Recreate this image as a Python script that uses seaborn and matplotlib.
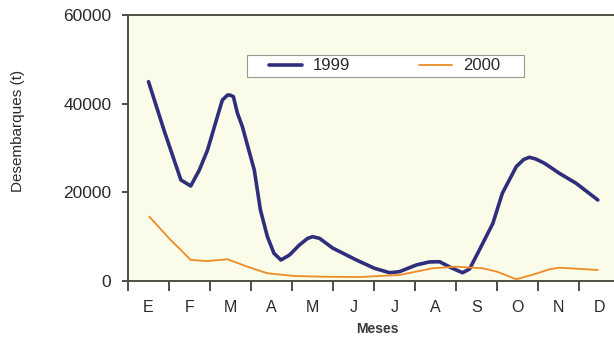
import matplotlib
matplotlib.use("Agg")
import matplotlib.pyplot as plt
import seaborn as sns
import pandas as pd
from matplotlib.lines import Line2D
from matplotlib.patches import Rectangle
from matplotlib.ticker import FixedLocator

# Month initials (Spanish) and landing values in tonnes
meses = ["E", "F", "M", "A", "M", "J", "J", "A", "S", "O", "N", "D"]

# 1999: position in months (0 = January) and landings
t_1999 = [0.0, 0.39, 0.79, 0.95, 1.03, 1.24, 1.44, 1.68, 1.80, 1.93, 2.0, 2.07,
          2.17, 2.29, 2.58, 2.73, 2.90, 3.06, 3.23, 3.44, 3.68, 3.88, 4.00,
          4.17, 4.49, 5.07, 5.51, 5.88, 6.12, 6.53, 6.85, 7.10, 7.41, 7.66,
          7.83, 8.07, 8.40, 8.63, 8.97, 9.15, 9.29, 9.45, 9.66, 10.02, 10.43,
          10.96]
d_1999 = [44960, 33680, 22790, 21880, 21430, 25040, 29550, 37070, 40800, 41960,
          41900, 41580, 37830, 34810, 25040, 16020, 9990, 6250, 4740, 5870,
          8120, 9600, 9990, 9630, 7440, 4740, 2870, 1870, 2100, 3610, 4300,
          4350, 2870, 1870, 2700, 6990, 13020, 19790, 25790, 27400, 27910,
          27500, 26550, 24300, 22040, 18270]

# 2000
t_2000 = [0.02, 0.54, 0.79, 1.03, 1.44, 1.93, 2.41, 2.90, 3.55, 4.24, 5.15,
          6.12, 6.93, 7.51, 8.15, 8.50, 8.97, 9.40, 9.78, 10.02, 10.96]
d_2000 = [14510, 9250, 6990, 4740, 4510, 4900, 3230, 1740, 1130, 970, 900,
          1350, 2870, 3230, 2870, 2100, 400, 1500, 2640, 3000, 2480]

y_ticks = [0, 20000, 40000, 60000]

c_1999 = "#2F2E7C"
c_2000 = "#EF8B25"
spine_c = "#4B5046"
text_c = "#2A2A2A"

sns.set_style("white")
plt.rcParams["font.family"] = ["Liberation Sans", "DejaVu Sans"]
plt.rcParams["lines.solid_joinstyle"] = "round"

df = pd.concat([
    pd.DataFrame({"mes": t_1999, "desembarques": d_1999, "año": "1999"}),
    pd.DataFrame({"mes": t_2000, "desembarques": d_2000, "año": "2000"}),
], ignore_index=True)

fig = plt.figure(figsize=(6.14, 3.38), dpi=100)
fig.patch.set_facecolor("white")
ax = fig.add_axes([128 / 614, 57 / 338, 486 / 614, 266 / 338])
ax.set_facecolor("#FAFBE8")

sns.lineplot(data=df[df["año"] == "1999"], x="mes", y="desembarques",
             color=c_1999, linewidth=2.6, sort=False, estimator=None, ax=ax)
sns.lineplot(data=df[df["año"] == "2000"], x="mes", y="desembarques",
             color=c_2000, linewidth=1.3, sort=False, estimator=None, ax=ax)

ax.set_xlim(-0.5, -0.5 + 486 / 41)
ax.set_ylim(0, 60000)

# Month labels centred, tick marks on month boundaries
ax.set_xticks(range(len(meses)))
ax.set_xticklabels(meses, fontsize=11.5, color=text_c)
ax.xaxis.set_minor_locator(FixedLocator([i - 0.5 for i in range(len(meses) + 1)]))
ax.tick_params(axis="x", which="major", length=0, pad=14)
ax.tick_params(axis="x", which="minor", length=7, width=1.4, color=spine_c,
               direction="out", bottom=True)

ax.set_yticks(y_ticks)
ax.set_yticklabels([str(v) for v in y_ticks], fontsize=12.5, color=text_c)
ax.tick_params(axis="y", length=4, width=1.4, color=spine_c, direction="out",
               left=True, pad=8)

for side in ("left", "bottom", "top"):
    ax.spines[side].set_visible(True)
    ax.spines[side].set_color(spine_c)
    ax.spines[side].set_linewidth(1.4)
ax.spines["right"].set_visible(False)

ax.set_ylabel("Desembarques (t)", fontsize=11, color=text_c, va="center")
ax.yaxis.set_label_coords(-0.226, 0.564)
ax.set_xlabel("Meses", fontsize=10, fontweight="bold", color="#3A3A3A",
              va="center")
ax.xaxis.set_label_coords(0.514, -0.18)

# Legend: white box with grey border, entries laid out in one row
box_x0, box_x1 = (247 - 128) / 486, (524 - 128) / 486
box_y0, box_y1 = (281 - 77) / 266, (281 - 55) / 266
ax.add_patch(Rectangle((box_x0, box_y0), box_x1 - box_x0, box_y1 - box_y0,
                       transform=ax.transAxes, facecolor="white",
                       edgecolor="#9A9A9A", linewidth=0.8, zorder=4))
handles = [Line2D([], [], color=c_1999, linewidth=2.6),
           Line2D([], [], color=c_2000, linewidth=1.3)]
leg = ax.legend(handles, ["1999", "2000"], ncol=2, loc="center left",
                bbox_to_anchor=((269 - 128) / 486, (box_y0 + box_y1) / 2),
                fontsize=12, handlelength=2.0, handletextpad=0.65,
                columnspacing=4.1, borderpad=0, borderaxespad=0,
                frameon=False)
leg.set_zorder(5)
for txt in leg.get_texts():
    txt.set_color(text_c)

fig.savefig("out.png", dpi=100)
